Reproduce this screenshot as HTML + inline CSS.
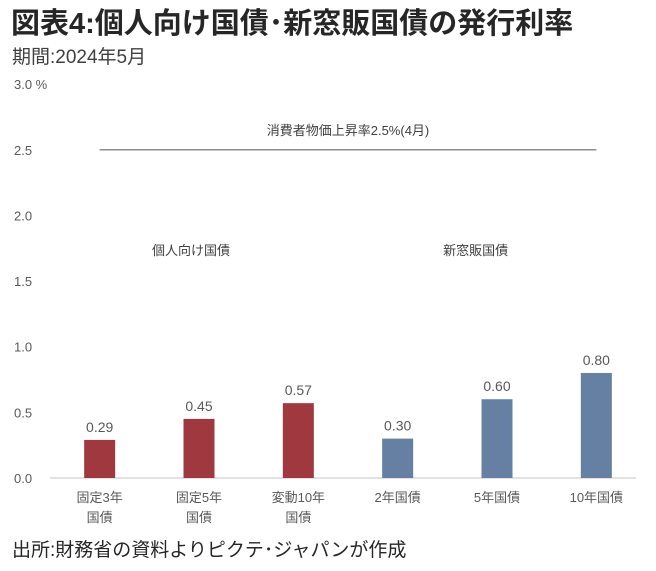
<!DOCTYPE html>
<html><head><meta charset="utf-8">
<style>
body{margin:0;background:#fff;width:656px;height:566px;overflow:hidden;font-family:"Liberation Sans","Noto Sans CJK JP",sans-serif;}
svg text{font-family:"Liberation Sans","Noto Sans CJK JP",sans-serif;}
</style></head>
<body>
<svg id="chart" width="656" height="566" xmlns="http://www.w3.org/2000/svg">
<text x="11" y="33" font-size="29" font-weight="bold" fill="#262626">図表4:個人向け国債･新窓販国債の発行利率</text>
<text x="12" y="63" font-size="19" fill="#404040">期間:2024年5月</text>
<text x="12" y="556" font-size="19" fill="#262626">出所:財務省の資料よりピクテ･ジャパンが作成</text>
<g id="plot"></g>
</svg>
<script>
const categories=[["固定3年","国債"],["固定5年","国債"],["変動10年","国債"],["2年国債"],["5年国債"],["10年国債"]];
const values=[0.29,0.45,0.57,0.30,0.60,0.80];
const groups=[0,0,0,1,1,1];
const valueLabels=["0.29","0.45","0.57","0.30","0.60","0.80"];
const yTicks=[0,0.5,1.0,1.5,2.0,2.5,3.0];
const yTickLabels=["0.0","0.5","1.0","1.5","2.0","2.5","3.0 %"];
const cpiValue=2.5;
const groupLabels=["個人向け国債","新窓販国債"];

const NS="http://www.w3.org/2000/svg";
const g=document.getElementById('plot');
const x0=50,x1=646,y0=478,pxPerUnit=131.3;
const band=(x1-x0)/categories.length;
const y=v=>y0-v*pxPerUnit;
const xc=i=>x0+band*(i+0.5);
function mk(tag,attrs,txt){const e=document.createElementNS(NS,tag);for(const k in attrs)e.setAttribute(k,attrs[k]);if(txt!==undefined)e.textContent=txt;g.appendChild(e);return e;}
const colors=["#A0393F","#6580A3"];
yTicks.forEach((t,i)=>{
  const e=mk('text',{x:14,y:y(t)+5,'font-size':13,fill:'#595959'},yTickLabels[i]);
  
  
});
const ax=mk('line',{x1:x0,x2:x1-10,y1:y0,y2:y0,stroke:'#d9d9d9','stroke-width':1.5});


values.forEach((v,i)=>{
  const bw=31;
  const r=mk('rect',{x:xc(i)-bw/2,y:y(v),width:bw,height:y0-y(v),fill:colors[groups[i]]});
  
  
  const t=mk('text',{x:xc(i),y:y(v)-8,'font-size':14,fill:'#595959','text-anchor':'middle'},valueLabels[i]);
  
  
  categories[i].forEach((line,j)=>{
    const c=mk('text',{x:xc(i),y:y0+24+j*20,'font-size':13,fill:'#595959','text-anchor':'middle'},line);
    
    
  });
});
const cl=mk('line',{x1:xc(0),x2:xc(5),y1:y(cpiValue),y2:y(cpiValue),stroke:'#8c8c8c','stroke-width':1.5});


const ct=mk('text',{x:(xc(0)+xc(5))/2,y:y(cpiValue)-15,'font-size':13,fill:'#404040','text-anchor':'middle'},'消費者物価上昇率2.5%(4月)');


const gl0=mk('text',{x:xc(1)-8,y:255,'font-size':13,fill:'#404040','text-anchor':'middle'},groupLabels[0]);


const gl1=mk('text',{x:xc(3)+78,y:255,'font-size':13,fill:'#404040','text-anchor':'middle'},groupLabels[1]);


</script>
</body></html>
